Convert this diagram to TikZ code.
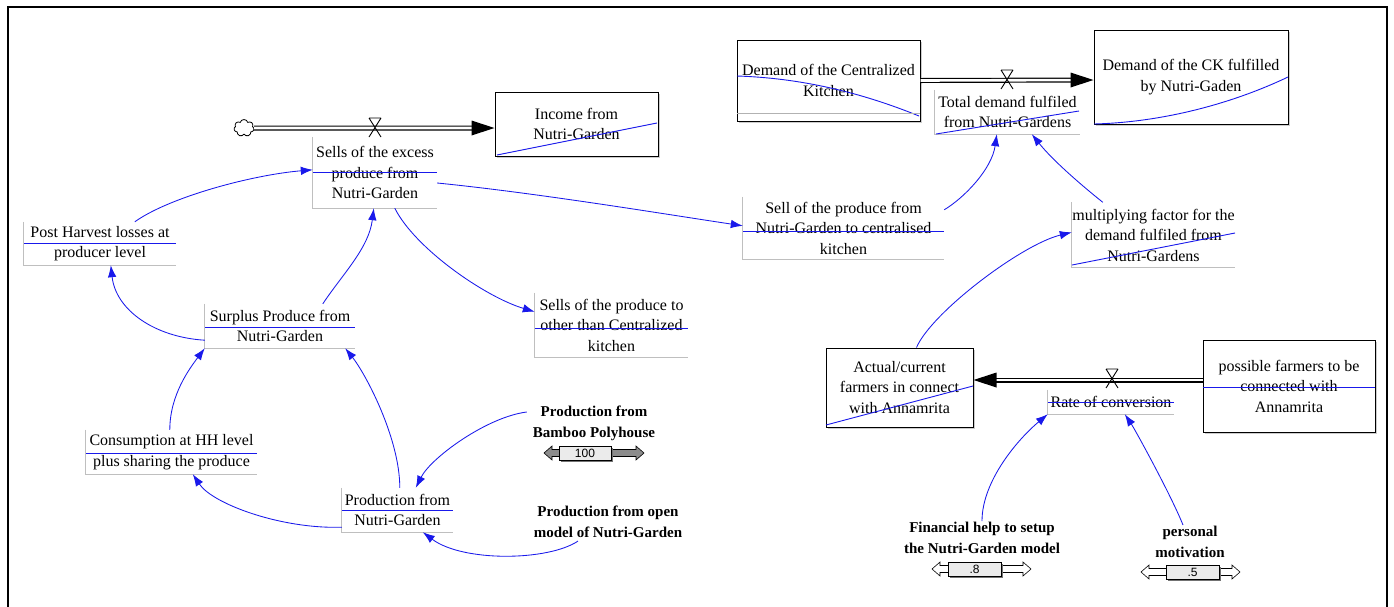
\documentclass[tikz,border=0pt]{standalone}
\usepackage{fontspec}
\setmainfont{Liberation Serif}
\newfontfamily\slidefont{Liberation Sans}
\usetikzlibrary{arrows.meta,shapes.symbols,shadows}
\definecolor{vblue}{RGB}{25,25,235}
\newcommand\vvalve[2]{%
  \draw[line width=0.9pt] (#1-6,#2-10) -- (#1+6,#2-10) (#1-6,#2-10) -- (#1+6,#2+9) (#1+6,#2-10) -- (#1-6,#2+9);}
\newcommand\vslider[8]{%
  \filldraw[fill=#7, line width=0.6pt] (#2,#6) -- (#2+8,#6-7) -- (#2+8,#6-3.5) -- (#5-8,#6-3.5) -- (#5-8,#6-7) -- (#5,#6) -- (#5-8,#6+7) -- (#5-8,#6+3.5) -- (#2+8,#6+3.5) -- (#2+8,#6+7) -- cycle;
  \fill[black!55] (#3+1.5,#6-5.5) rectangle (#4+1.5,#6+8.5);
  \draw[fill=black!8, line width=0.6pt] (#3,#6-7) rectangle (#4,#6+7);
  \node[font=\slidefont\fontsize{12}{12}\selectfont, inner sep=0pt] (#1) at ({(#3+#4)/2},#6) {#8};}
\tikzset{
  lbl/.style={font=\fontsize{16}{20.5}\selectfont, align=center, inner sep=0pt},
  stockbox/.style={lbl, draw, line width=1pt, fill=white,
    drop shadow={shadow xshift=1.6pt, shadow yshift=-1.6pt, opacity=0.4}},
  cst/.style={font=\fontsize{15}{21}\selectfont\bfseries, align=center, inner sep=1pt},
  auxedge/.style={draw=black!25, line width=1pt},
  strike/.style={vblue, line width=0.9pt},
  conn/.style={vblue, line width=0.85pt, -{Latex[length=12pt,width=8.5pt]}},
  pipe/.style={line width=1.2pt, double distance=2.6pt, shorten >=21pt},
}
\begin{document}
\begin{tikzpicture}[x=1pt,y=-1pt]
\useasboundingbox (0,0) rectangle (1394,606);
\clip (0,0) rectangle (1394,606);
\fill[white] (0,0) rectangle (1394,606);
\draw[line width=2pt] (8,7) rectangle (1387,640);

% stocks
\node[stockbox, minimum width=163, minimum height=64] (income) at (576.5,124) {Income from\\Nutri-Garden};
\node[stockbox, minimum width=183, minimum height=81] (demck) at (828.5,80.5) {Demand of the Centralized\\Kitchen};
\node[stockbox, minimum width=194, minimum height=94] (ckful) at (1191,77) {Demand of the CK fulfilled\\by Nutri-Gaden};
\node[stockbox, minimum width=147, minimum height=79] (actual) at (899.5,387.5) {Actual/current\\farmers in connect\\with Annamrita};
\node[stockbox, minimum width=172, minimum height=92] (possible) at (1289,386) {possible farmers to be\\connected with\\Annamrita};

% auxiliaries / flow labels
\node[lbl, minimum width=124, minimum height=71] (sells) at (375,172.5) {Sells of the excess\\produce from\\Nutri-Garden};
\node[lbl, minimum width=145, minimum height=44] (totald) at (1007.5,112) {Total demand fulfiled\\from Nutri-Gardens};
\node[lbl, minimum width=201, minimum height=62] (sellck) at (843.5,228) {Sell of the produce from\\Nutri-Garden to centralised\\kitchen};
\node[lbl, minimum width=163, minimum height=65] (mult) at (1153.5,235) {multiplying factor for the\\demand fulfiled from\\Nutri-Gardens};
\node[lbl, minimum width=152, minimum height=43] (post) at (100,243.5) {Post Harvest losses at\\producer level};
\node[lbl, minimum width=150, minimum height=44] (surplus) at (280,326) {Surplus Produce from\\Nutri-Garden};
\node[lbl, minimum width=153, minimum height=64] (other) at (611.5,325) {Sells of the produce to\\other than Centralized\\kitchen};
\node[lbl, minimum width=171, minimum height=44] (cons) at (171.5,452) {Consumption at HH level\\plus sharing the produce};
\node[lbl, minimum width=111, minimum height=44] (prodng) at (397.5,510) {Production from\\Nutri-Garden};
\node[lbl, minimum width=126, minimum height=24] (rate) at (1111,402) {Rate of conversion};

\foreach \n in {sells,totald,sellck,mult,post,surplus,other,cons,prodng,rate}
  \draw[auxedge] (\n.north west) -- (\n.south west) -- (\n.south east);

% constants
\node[cst] (bamboo) at (594,423) {Production from\\Bamboo Polyhouse};
\node[cst] (open) at (608,522) {Production from open\\model of Nutri-Garden};
\node[cst] (financial) at (982,538) {Financial help to setup\\the Nutri-Garden model};
\node[cst] (personal) at (1190,542) {personal\\motivation};

% sliders
\vslider{sl100}{544}{559}{611}{644}{453}{black!45}{100}
\vslider{sl8}{932}{948}{1001}{1031}{569}{white}{.8}
\vslider{sl5}{1141}{1166}{1219}{1240}{572}{white}{.5}

% inner blue lines
\draw[strike] (313,172) -- (437,172);
\draw[strike] (936,134) -- (1079,111);
\draw[strike] (743,231) -- (944,231);
\draw[strike] (1072,265) -- (1235,233);
\draw[strike] (24,243) -- (176,243);
\draw[strike] (205,327) -- (355,327);
\draw[strike] (535,328) -- (688,328);
\draw[strike] (86,453) -- (257,453);
\draw[strike] (342,510) -- (453,510);
\draw[strike] (1048,402) -- (1174,402);
\draw[strike] (497,155) -- (657,123);
\draw[strike] (737,76) .. controls (800,78) and (860,92) .. (919,116);
\draw[black!30, line width=1pt] (737,113) -- (920,113);
\draw[strike] (1094,124) .. controls (1170,122) and (1240,100) .. (1288,77);
\draw[strike] (826,425) -- (973,386);
\draw[strike] (1203,387) -- (1375,387);

% cloud source
\node[cloud, draw, cloud puffs=7, aspect=1.1, minimum width=20pt, minimum height=17pt, inner sep=0pt, line width=0.8pt] (src) at (244,128) {};

% pipes
\draw[pipe] (src.east) -- ([yshift=-4pt]income.west);
\fill ([yshift=-4pt]income.west) -- ++(-23,-7.5) -- ++(0,15) -- cycle;
\vvalve{375}{128}
\draw[pipe] (demck.east) -- ([yshift=-3pt]ckful.west);
\fill ([yshift=-3pt]ckful.west) -- ++(-23,-7.5) -- ++(0,15) -- cycle;
\vvalve{1007}{80}
\draw[pipe] ([yshift=6pt]possible.west) -- ([yshift=7.5pt]actual.east);
\fill ([yshift=7.5pt]actual.east) -- ++(23,-7.5) -- ++(0,15) -- cycle;
\vvalve{1112}{379}

% connectors
\draw[conn] ([yshift=8pt]surplus.south west) .. controls +(-50,-3) and +(5,45) .. ([xshift=87pt]post.south west);
\draw[conn] ([xshift=118pt]surplus.north west) .. controls +(20,-30) and +(-5,40) .. ([xshift=61pt]sells.south west);
\draw[conn] ([xshift=82pt]sells.south west) .. controls +(20,40) and +(-50,-15) .. ([yshift=-19pt]other.north west);
\draw[conn] ([xshift=111pt]post.north west) .. controls +(35,-25) and +(-60,5) .. ([yshift=-33pt]sells.north west);
\draw[conn] ([yshift=-10.5pt]sells.east) .. controls +(100,10) and +(-80,-12) .. ([yshift=-29pt]sellck.north west);
\draw[conn] ([yshift=-13pt]sellck.north east) .. controls +(20,-12) and +(-5,35) .. ([xshift=62pt]totald.south west);
\draw[conn] ([xshift=31pt]mult.north west) .. controls +(-25,-20) and +(20,25) .. ([xshift=97pt]totald.south west);
\draw[conn] ([xshift=91pt]actual.north west) .. controls +(15,-35) and +(-50,12) .. ([yshift=-30pt]mult.north west);
\draw[conn] (financial.north) .. controls +(0,-40) and +(-30,25) .. (rate.south west);
\draw[conn] ([xshift=-7pt]personal.north) .. controls +(-12,-30) and +(10,15) .. ([xshift=77pt]rate.south west);
\draw[conn] ([xshift=84pt]cons.north west) .. controls +(0,-35) and +(-15,20) .. (surplus.south west);
\draw[conn] ([xshift=58pt]prodng.north west) .. controls +(0,-50) and +(20,25) .. ([xshift=-10pt]surplus.south east);
\draw[conn] ([xshift=-5pt,yshift=11pt]bamboo.west) .. controls +(-40,5) and +(15,-30) .. ([xshift=74pt]prodng.north west);
\draw[conn] ([yshift=5pt]prodng.south west) .. controls +(-60,2) and +(20,30) .. ([xshift=107pt]cons.south west);
\draw[conn] ([xshift=-30pt,yshift=-2pt]open.south) .. controls +(-30,20) and +(40,30) .. ([xshift=81pt]prodng.south west);
\end{tikzpicture}
\end{document}
